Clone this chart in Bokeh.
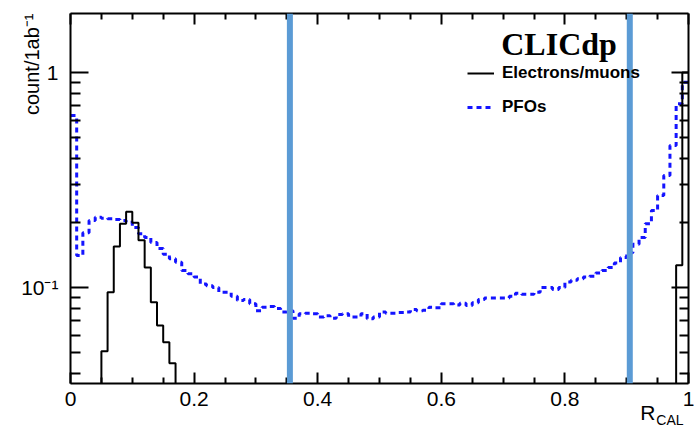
import numpy as np
from bokeh.plotting import figure
from bokeh.models import (LogAxis, LinearAxis, FixedTicker, Span, Label, Title,
                          Legend, LegendItem, Range1d)
from bokeh.embed import file_html
from bokeh.resources import INLINE

# ---------------- data ----------------
bin_width = 0.01
n_bins = 100

electron_counts = [
    0, 0, 0, 0, 0, 0.0506, 0.095, 0.155, 0.198, 0.225,
    0.200, 0.166, 0.124, 0.0855, 0.0666, 0.0557, 0.0445, 0, 0, 0,
    0, 0, 0, 0, 0, 0, 0, 0, 0, 0,
    0, 0, 0, 0, 0, 0, 0, 0, 0, 0,
    0, 0, 0, 0, 0, 0, 0, 0, 0, 0,
    0, 0, 0, 0, 0, 0, 0, 0, 0, 0,
    0, 0, 0, 0, 0, 0, 0, 0, 0, 0,
    0, 0, 0, 0, 0, 0, 0, 0, 0, 0,
    0, 0, 0, 0, 0, 0, 0, 0, 0, 0,
    0, 0, 0, 0, 0, 0, 0, 0, 0.127, 1.0,
]

pfo_counts = [
    0.63, 0.141, 0.18, 0.205, 0.212, 0.21, 0.209, 0.207, 0.205, 0.201,
    0.19, 0.178, 0.171, 0.162, 0.152, 0.143, 0.136, 0.131, 0.12, 0.116,
    0.112, 0.104, 0.102, 0.1, 0.095, 0.095, 0.091, 0.087, 0.088, 0.084,
    0.078, 0.081, 0.0816, 0.080, 0.077, 0.078, 0.072, 0.0755, 0.076, 0.0755,
    0.073, 0.074, 0.072, 0.075, 0.0755, 0.073, 0.073, 0.0755, 0.0716, 0.073,
    0.077, 0.076, 0.076, 0.0765, 0.077, 0.079, 0.078, 0.0785, 0.081, 0.0805,
    0.084, 0.084, 0.083, 0.0845, 0.0825, 0.085, 0.088, 0.0895, 0.0895, 0.0895,
    0.0895, 0.091, 0.094, 0.093, 0.093, 0.095, 0.1, 0.1, 0.098, 0.1,
    0.106, 0.108, 0.11, 0.112, 0.113, 0.117, 0.12, 0.124, 0.13, 0.138,
    0.145, 0.159, 0.171, 0.198, 0.228, 0.268, 0.332, 0.458, 0.715, 0.9,
]

cut_values = [0.355, 0.905]

x_ticks = [0, 0.2, 0.4, 0.6, 0.8, 1.0]
x_tick_labels = ["0", "0.2", "0.4", "0.6", "0.8", "1"]
y_ticks = [0.1, 1.0]
y_tick_labels = ["10\u207b\u00b9", "1"]
y_minor_ticks = [0.04, 0.05, 0.06, 0.07, 0.08, 0.09,
                 0.2, 0.3, 0.4, 0.5, 0.6, 0.7, 0.8, 0.9]

series_labels = ["Electrons/muons", "PFOs"]
y_title = "count/1ab\u207b\u00b9"
x_title_main, x_title_sub = "R", "CAL"

# ---------------- figure ----------------
FONT = "Liberation Sans"

p = figure(width=694, height=432, y_axis_type="log",
           x_range=Range1d(0, 1), y_range=Range1d(0.0358, 1.88),
           output_backend="svg", toolbar_location=None,
           min_border_left=70, min_border_right=6,
           min_border_top=13, min_border_bottom=49)
p.grid.visible = False
p.outline_line_color = None
p.background_fill_color = "white"
p.border_fill_color = "white"

edges = np.arange(n_bins + 1) * bin_width
floor = 1e-3


def step_y(vals):
    v = np.asarray(vals, dtype=float)
    v = np.where(v > 0, v, floor)
    return np.append(v, v[-1])


r_p = p.step(x=edges, y=step_y(pfo_counts), mode="after",
             line_color="#1414ff", line_width=3, line_dash="5 4")
r_e = p.step(x=edges, y=step_y(electron_counts), mode="after",
             line_color="black", line_width=2)

# ---------------- axes ----------------
minor_x = [round(v, 2) for v in np.arange(0, 1.0001, 0.05) if round(v, 2) not in x_ticks]
xticker = FixedTicker(ticks=x_ticks, minor_ticks=minor_x)
yticker = FixedTicker(ticks=y_ticks, minor_ticks=y_minor_ticks)

xa = p.xaxis[0]
xa.ticker = xticker
xa.major_label_overrides = dict(zip(x_ticks, x_tick_labels))
xa.axis_line_width = 2
xa.major_tick_line_width = 2
xa.minor_tick_line_width = 2
xa.major_tick_in = 11
xa.major_tick_out = 0
xa.minor_tick_in = 6
xa.minor_tick_out = 0
xa.major_label_text_font = FONT
xa.major_label_text_font_size = "21px"
xa.major_label_text_color = "black"
xa.major_label_standoff = 8

ya = p.yaxis[0]
ya.ticker = yticker
ya.major_label_overrides = dict(zip(y_ticks, y_tick_labels))
ya.axis_line_width = 2
ya.major_tick_line_width = 2
ya.minor_tick_line_width = 2
ya.major_tick_in = 18
ya.major_tick_out = 0
ya.minor_tick_in = 10
ya.minor_tick_out = 0
ya.major_label_text_font = FONT
ya.major_label_text_font_size = "21px"
ya.major_label_text_color = "black"
ya.major_label_standoff = 12

top = LinearAxis(ticker=xticker, axis_line_width=2, major_tick_line_width=2,
                 minor_tick_line_width=2, major_tick_in=11, major_tick_out=0,
                 minor_tick_in=6, minor_tick_out=0,
                 major_label_text_font_size="1px", major_label_text_color=None,
                 major_label_standoff=0)
p.add_layout(top, "above")

right = LogAxis(ticker=yticker, axis_line_width=2,
                major_tick_line_width=2, minor_tick_line_width=2,
                major_tick_in=17, major_tick_out=0, minor_tick_in=9, minor_tick_out=0,
                major_label_text_font_size="1px", major_label_text_color=None,
                major_label_standoff=0)
p.add_layout(right, "right")

# ---------------- axis titles (side-panel titles) ----------------
p.add_layout(Title(text=y_title, align="right", vertical_align="bottom", offset=0,
                   standoff=-48, text_font=FONT, text_font_size="20px",
                   text_font_style="normal", text_color="black"), "left")
p.add_layout(Title(text=x_title_main, align="right", vertical_align="middle", offset=33,
                   standoff=-17.5, text_font=FONT, text_font_size="21px",
                   text_font_style="normal", text_color="black"), "below")
p.add_layout(Title(text=x_title_sub, align="right", vertical_align="middle", offset=5,
                   standoff=-11.6, text_font=FONT, text_font_size="14px",
                   text_font_style="normal", text_color="black"), "below")

# ---------------- legend ----------------
legend = Legend(items=[LegendItem(label=series_labels[0], renderers=[r_e]),
                       LegendItem(label=series_labels[1], renderers=[r_p])],
                location=(397, 266), glyph_width=27, glyph_height=20,
                label_height=20, label_standoff=8, spacing=14,
                padding=0, margin=0, border_line_color=None,
                background_fill_alpha=0,
                label_text_font=FONT, label_text_font_size="17px",
                label_text_font_style="bold", label_text_color="black")
p.add_layout(legend, "center")

p.add_layout(Label(x=0.697, y=1.36, text="CLICdp", text_font="Liberation Serif",
                   text_font_size="32px", text_font_style="bold", text_color="black",
                   text_baseline="alphabetic"))

# ---------------- cut lines ----------------
for c in cut_values:
    p.add_layout(Span(location=c, dimension="height", line_color="#5b9bd5", line_width=6))

open("out.html", "w").write(file_html(p, INLINE))
